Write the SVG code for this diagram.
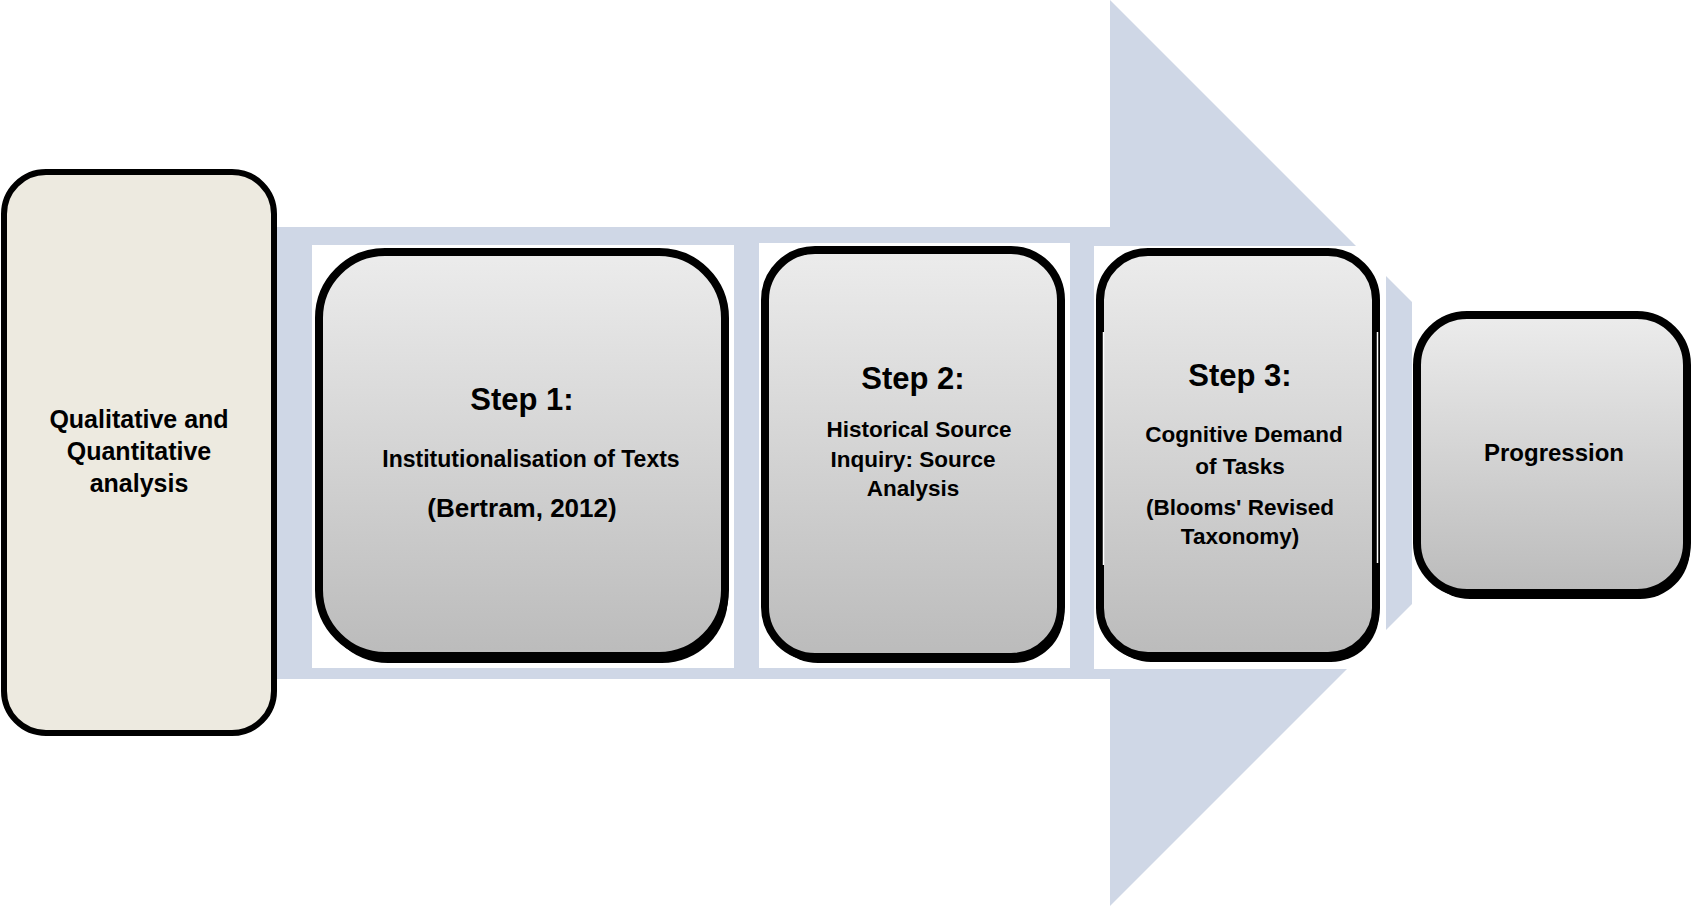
<svg xmlns="http://www.w3.org/2000/svg" width="1695" height="906" viewBox="0 0 1695 906">
  <defs>
    <linearGradient id="grey" x1="0" y1="0" x2="0" y2="1">
      <stop offset="0" stop-color="#ECECEC"/>
      <stop offset="1" stop-color="#BBBBBB"/>
    </linearGradient>
    <style>
      .box { fill: url(#grey); stroke: #000; stroke-width: 8; }
      .shadow { fill: #000; }
      .back { fill: #FFFFFF; }
      .t { font-family: "Liberation Sans", Arial, sans-serif; font-weight: bold; fill: #000; text-anchor: middle; }
    </style>
  </defs>
  <rect width="1695" height="906" fill="#FFFFFF"/>

  <g id="connectors">
    <polygon id="big-arrow" points="260,227 1110,227 1110,0 1412,302 1412,604 1110,906 1110,679 260,679" fill="#CFD7E6"/>
  </g>

  <g id="node-analysis">
    <rect x="4" y="172" width="270" height="561" rx="42" ry="42" fill="#EDEAE0" stroke="#000" stroke-width="6"/>
    <text class="t" font-size="25" x="139" y="428">Qualitative and</text>
    <text class="t" font-size="25" x="139" y="460">Quantitative</text>
    <text class="t" font-size="25" x="139" y="492">analysis</text>
  </g>

  <g id="node-step1">
    <rect class="back" x="312" y="245" width="422" height="423"/>
    <rect class="shadow" x="322" y="259" width="406" height="404" rx="66" ry="66"/>
    <rect class="box" x="319" y="252" width="406" height="404" rx="66" ry="66"/>
    <text class="t" font-size="31" x="522" y="410">Step 1:</text>
    <text class="t" font-size="23" x="531" y="467">Institutionalisation of Texts</text>
    <text class="t" font-size="26" x="522" y="517">(Bertram, 2012)</text>
  </g>

  <g id="node-step2">
    <rect class="back" x="759" y="243" width="311" height="425"/>
    <rect class="shadow" x="768" y="256" width="296" height="407" rx="50" ry="50"/>
    <rect class="box" x="765" y="250" width="296" height="407" rx="50" ry="50"/>
    <text class="t" font-size="31" x="913" y="389">Step 2:</text>
    <text class="t" font-size="22.5" x="919" y="437">Historical Source</text>
    <text class="t" font-size="22.5" x="913" y="467">Inquiry: Source</text>
    <text class="t" font-size="22.5" x="913" y="496">Analysis</text>
  </g>

  <g id="node-step3">
    <rect class="back" x="1094" y="246" width="292" height="423"/>
    <rect class="shadow" x="1103" y="258" width="276" height="404" rx="48" ry="48"/>
    <rect class="box" x="1100" y="252" width="276" height="404" rx="48" ry="48"/>
    <line x1="1103.5" y1="332" x2="1103.5" y2="565" stroke="#FFFFFF" stroke-width="1.5"/>
    <line x1="1377.5" y1="332" x2="1377.5" y2="563" stroke="#FFFFFF" stroke-width="1.5"/>
    <text class="t" font-size="31" x="1240" y="386">Step 3:</text>
    <text class="t" font-size="22.5" x="1244" y="442">Cognitive Demand</text>
    <text class="t" font-size="22.5" x="1240" y="474">of Tasks</text>
    <text class="t" font-size="22.5" x="1240" y="515">(Blooms' Revised</text>
    <text class="t" font-size="22.5" x="1240" y="544">Taxonomy)</text>
  </g>

  <g id="node-progression">
    <rect class="shadow" x="1420" y="321" width="270" height="278" rx="50" ry="50"/>
    <rect class="box" x="1417" y="315" width="270" height="278" rx="50" ry="50"/>
    <text class="t" font-size="24" x="1554" y="461">Progression</text>
  </g>
</svg>
